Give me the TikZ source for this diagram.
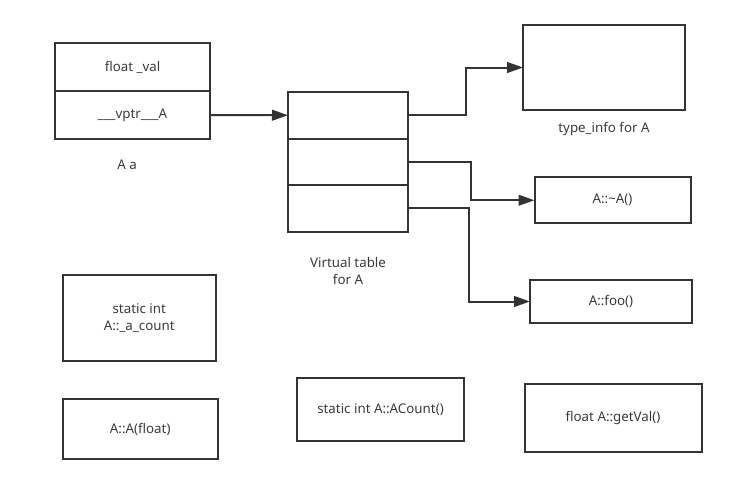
\documentclass[tikz,border=0pt]{standalone}
\usepackage{fontspec}
\setmainfont{Noto Sans}
\usetikzlibrary{arrows.meta,calc}
\definecolor{ln}{HTML}{333333}
\definecolor{tx}{HTML}{3A3A3A}
\begin{document}
\begin{tikzpicture}[x=0.75pt,y=-0.75pt,
  box/.style={draw=ln,line width=1.5pt,rectangle,inner sep=0pt,outer sep=0pt,
    text=tx,font=\fontsize{10}{13}\selectfont,align=center},
  sz/.style 2 args={minimum width=#1*0.75pt,minimum height=#2*0.75pt},
  lbl/.style={text=tx,font=\fontsize{10}{13}\selectfont,align=center,inner sep=0pt},
  conn/.style={draw=ln,line width=1.5pt,-{Triangle[length=12pt,width=8pt]}}]
\useasboundingbox (0,0) rectangle (731,483);
% object A a
\node[box,sz={155}{48}] (o1) at (132.5,67) {float \_val};
\node[box,sz={155}{48}] (o2) at (132.5,115) {\_\_\_vptr\_\_\_A};
\node[lbl] (oa) at (127,165) {A a};
% virtual table
\node[box,sz={120}{46.5}] (v1) at (348,115.25) {};
\node[box,sz={120}{46.5}] (v2) at (348,161.75) {};
\node[box,sz={120}{46.5}] (v3) at (348,208.25) {};
\node[lbl] (vl) at (348,271) {Virtual table\\for A};
% targets
\node[box,sz={162}{85}] (ti) at (604,67.5) {};
\node[lbl] (til) at (604,129) {type\_info for A};
\node[box,sz={156}{46}] (dt) at (612.5,200.25) {A::\textasciitilde A()};
\node[box,sz={162}{43}] (foo) at (611,301.5) {A::foo()};
% others
\node[box,sz={153}{86}] (ac) at (139.25,318) {static int\\A::\_a\_count};
\node[box,sz={155}{60}] (ctor) at (140.25,429.25) {A::A(float)};
\node[box,sz={167}{63}] (cnt) at (380.5,409.25) {static int A::ACount()};
\node[box,sz={177}{68}] (gv) at (613,418.25) {float A::getVal()};
% connectors
\draw[conn] (o2.east) -- (v1.west);
\draw[conn] (v1.east) -- ++(58,0) |- (ti.west);
\draw[conn] (v2.east) -- ++(63,0) |- (dt.west);
\draw[conn] (v3.east) -- ++(61,0) |- (foo.west);
\end{tikzpicture}
\end{document}
